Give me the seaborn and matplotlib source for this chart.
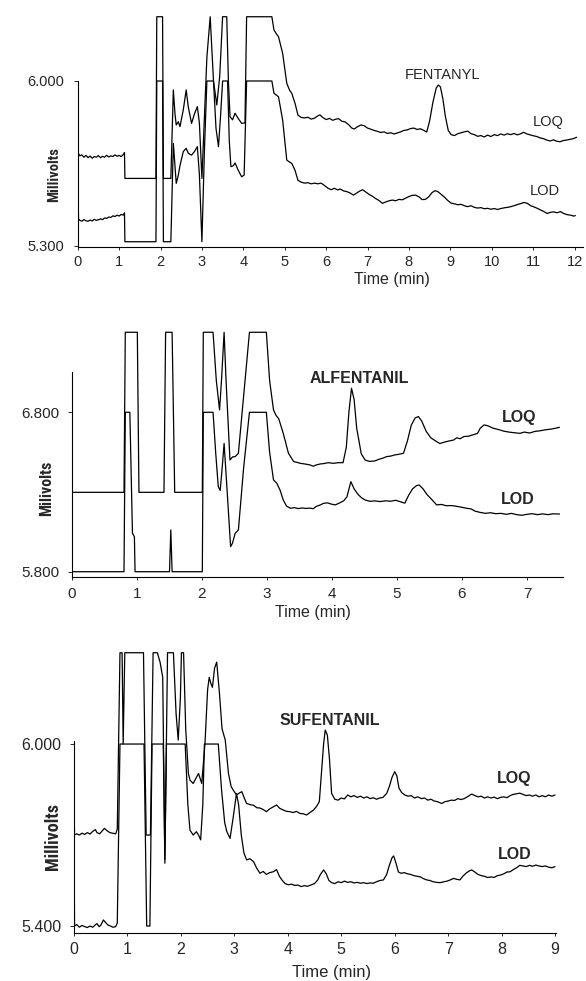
#chromatograms of fentanyl, alfentanil and sufentanil at LOQ and LOD
import numpy as np
import matplotlib
matplotlib.use("Agg")
import matplotlib.pyplot as plt
import seaborn as sns

#fentanyl traces (time in min, signal in mV)
fen_loq = [(0.00, 5.586), (0.01, 5.695), (0.05, 5.682), (0.10, 5.686), (0.15, 5.676), (0.20, 5.684), (0.25, 5.674),
           (0.30, 5.681), (0.35, 5.672), (0.40, 5.679), (0.45, 5.676), (0.50, 5.683), (0.55, 5.674), (0.60, 5.680),
           (0.65, 5.676), (0.70, 5.684), (0.75, 5.677), (0.80, 5.682), (0.85, 5.679), (0.90, 5.686), (0.95, 5.680),
           (1.00, 5.684), (1.05, 5.679), (1.10, 5.687), (1.13, 5.696), (1.14, 5.586), (1.89, 5.586), (1.91, 6.273),
           (2.05, 6.273), (2.07, 5.586), (2.25, 5.586), (2.31, 5.962), (2.35, 5.860), (2.38, 5.813), (2.43, 5.827),
           (2.47, 5.806), (2.55, 5.877), (2.62, 5.962), (2.67, 5.891), (2.75, 5.820), (2.82, 5.860), (2.89, 5.891),
           (2.94, 5.820), (3.00, 5.586), (3.05, 5.800), (3.12, 6.100), (3.20, 6.273), (3.28, 6.000), (3.36, 5.898),
           (3.43, 6.020), (3.50, 6.273), (3.60, 6.273), (3.64, 6.000), (3.68, 5.848), (3.74, 5.835), (3.80, 5.863),
           (3.88, 5.840), (3.96, 5.820), (4.04, 5.822), (4.08, 6.273), (4.69, 6.273), (4.74, 6.217), (4.80, 6.200),
           (4.85, 6.188), (4.95, 6.118), (5.05, 5.990), (5.12, 5.960), (5.17, 5.948), (5.25, 5.905), (5.32, 5.855),
           (5.40, 5.845), (5.48, 5.843), (5.56, 5.846), (5.64, 5.838), (5.72, 5.842), (5.80, 5.852), (5.85, 5.856),
           (5.92, 5.845), (6.00, 5.836), (6.08, 5.841), (6.16, 5.833), (6.24, 5.838), (6.30, 5.840), (6.38, 5.829),
           (6.46, 5.826), (6.54, 5.815), (6.62, 5.800), (6.68, 5.796), (6.76, 5.806), (6.84, 5.813), (6.92, 5.810),
           (7.00, 5.800), (7.08, 5.795), (7.16, 5.790), (7.24, 5.786), (7.32, 5.781), (7.40, 5.784), (7.48, 5.777),
           (7.56, 5.780), (7.64, 5.775), (7.72, 5.779), (7.80, 5.784), (7.88, 5.790), (7.96, 5.792), (8.04, 5.798),
           (8.12, 5.800), (8.20, 5.794), (8.28, 5.797), (8.36, 5.790), (8.43, 5.783), (8.50, 5.830), (8.58, 5.910),
           (8.66, 5.970), (8.71, 5.983), (8.76, 5.975), (8.82, 5.925), (8.88, 5.850), (8.95, 5.790), (9.02, 5.772),
           (9.10, 5.768), (9.18, 5.776), (9.26, 5.780), (9.34, 5.784), (9.42, 5.787), (9.50, 5.776), (9.58, 5.772),
           (9.66, 5.765), (9.74, 5.768), (9.82, 5.762), (9.90, 5.770), (9.98, 5.764), (10.06, 5.772), (10.14, 5.768),
           (10.22, 5.775), (10.30, 5.770), (10.38, 5.776), (10.46, 5.772), (10.54, 5.777), (10.62, 5.771),
           (10.70, 5.776), (10.77, 5.782), (10.85, 5.775), (10.93, 5.771), (11.01, 5.767), (11.09, 5.764),
           (11.17, 5.758), (11.25, 5.755), (11.33, 5.749), (11.41, 5.745), (11.49, 5.750), (11.57, 5.744),
           (11.65, 5.742), (11.73, 5.747), (11.81, 5.749), (11.89, 5.752), (11.97, 5.755), (12.05, 5.761)]

fen_lod = [(0.00, 5.586), (0.02, 5.414), (0.05, 5.408), (0.10, 5.404), (0.15, 5.411), (0.20, 5.406), (0.25, 5.404),
           (0.30, 5.409), (0.35, 5.405), (0.40, 5.412), (0.45, 5.408), (0.50, 5.410), (0.55, 5.414), (0.60, 5.411),
           (0.65, 5.418), (0.70, 5.416), (0.75, 5.422), (0.80, 5.420), (0.85, 5.427), (0.90, 5.424), (0.95, 5.430),
           (1.00, 5.426), (1.05, 5.433), (1.10, 5.430), (1.13, 5.440), (1.14, 5.317), (1.89, 5.317), (1.91, 6.000),
           (2.05, 6.000), (2.07, 5.317), (2.25, 5.317), (2.31, 5.735), (2.38, 5.565), (2.43, 5.600), (2.47, 5.640),
           (2.55, 5.700), (2.62, 5.714), (2.67, 5.693), (2.75, 5.685), (2.82, 5.700), (2.89, 5.721), (2.94, 5.600),
           (3.00, 5.317), (3.06, 5.700), (3.12, 6.000), (3.28, 6.000), (3.34, 5.800), (3.40, 5.721), (3.45, 5.850),
           (3.50, 6.000), (3.62, 6.000), (3.66, 5.750), (3.70, 5.636), (3.76, 5.640), (3.80, 5.652), (3.88, 5.620),
           (3.96, 5.593), (4.02, 5.600), (4.08, 6.000), (4.69, 6.000), (4.74, 5.948), (4.85, 5.933), (4.95, 5.834),
           (5.05, 5.664), (5.12, 5.655), (5.17, 5.650), (5.25, 5.620), (5.32, 5.578), (5.40, 5.570), (5.48, 5.566),
           (5.56, 5.568), (5.64, 5.563), (5.72, 5.566), (5.80, 5.563), (5.88, 5.566), (5.96, 5.556), (6.04, 5.545),
           (6.12, 5.538), (6.20, 5.544), (6.28, 5.537), (6.34, 5.541), (6.42, 5.533), (6.50, 5.530), (6.58, 5.524),
           (6.66, 5.515), (6.74, 5.524), (6.82, 5.533), (6.88, 5.538), (6.96, 5.528), (7.04, 5.518), (7.12, 5.510),
           (7.20, 5.500), (7.28, 5.492), (7.36, 5.480), (7.44, 5.486), (7.52, 5.491), (7.60, 5.494), (7.68, 5.491),
           (7.76, 5.497), (7.84, 5.495), (7.92, 5.502), (8.00, 5.509), (8.08, 5.514), (8.16, 5.515), (8.24, 5.508),
           (8.32, 5.496), (8.40, 5.497), (8.48, 5.508), (8.56, 5.526), (8.63, 5.534), (8.70, 5.530), (8.78, 5.518),
           (8.86, 5.506), (8.94, 5.492), (9.02, 5.481), (9.10, 5.478), (9.18, 5.474), (9.26, 5.476), (9.34, 5.470),
           (9.42, 5.466), (9.50, 5.470), (9.58, 5.463), (9.66, 5.460), (9.74, 5.462), (9.82, 5.457), (9.90, 5.459),
           (9.98, 5.455), (10.06, 5.458), (10.14, 5.454), (10.22, 5.458), (10.30, 5.461), (10.38, 5.463),
           (10.46, 5.466), (10.54, 5.470), (10.62, 5.475), (10.70, 5.479), (10.78, 5.484), (10.86, 5.480),
           (10.94, 5.470), (11.02, 5.465), (11.10, 5.459), (11.18, 5.452), (11.26, 5.445), (11.34, 5.437),
           (11.42, 5.442), (11.50, 5.444), (11.58, 5.440), (11.66, 5.445), (11.74, 5.437), (11.82, 5.432),
           (11.90, 5.430), (11.98, 5.426), (12.02, 5.428)]

#alfentanil traces
alf_loq = [(0.00, 6.298), (0.80, 6.298), (0.82, 7.302), (1.005, 7.302), (1.03, 6.298), (1.415, 6.298), (1.44, 7.302),
           (1.54, 7.302), (1.58, 6.298), (2.005, 6.298), (2.02, 7.302), (2.17, 7.302), (2.22, 7.000), (2.27, 6.815),
           (2.30, 7.000), (2.34, 7.302), (2.37, 7.000), (2.43, 6.501), (2.47, 6.520), (2.51, 6.522), (2.56, 6.543),
           (2.64, 6.900), (2.73, 7.302), (2.99, 7.302), (3.04, 7.000), (3.10, 6.815), (3.14, 6.780), (3.18, 6.760),
           (3.25, 6.668), (3.33, 6.543), (3.41, 6.491), (3.48, 6.484), (3.51, 6.480), (3.58, 6.476), (3.66, 6.470),
           (3.71, 6.462), (3.76, 6.470), (3.82, 6.476), (3.87, 6.478), (3.94, 6.484), (4.02, 6.480), (4.10, 6.484),
           (4.17, 6.484), (4.22, 6.580), (4.26, 6.800), (4.30, 6.951), (4.34, 6.880), (4.38, 6.700), (4.45, 6.540),
           (4.51, 6.500), (4.58, 6.492), (4.66, 6.495), (4.72, 6.505), (4.78, 6.512), (4.84, 6.522), (4.90, 6.525),
           (4.96, 6.532), (5.02, 6.536), (5.10, 6.543), (5.16, 6.620), (5.22, 6.720), (5.28, 6.765), (5.33, 6.773),
           (5.38, 6.745), (5.45, 6.680), (5.52, 6.640), (5.61, 6.616), (5.66, 6.604), (5.72, 6.612), (5.80, 6.620),
           (5.87, 6.626), (5.92, 6.640), (5.97, 6.634), (6.03, 6.648), (6.10, 6.650), (6.18, 6.660), (6.24, 6.668),
           (6.28, 6.700), (6.34, 6.721), (6.40, 6.715), (6.48, 6.700), (6.56, 6.692), (6.64, 6.682), (6.72, 6.676),
           (6.80, 6.672), (6.89, 6.668), (6.96, 6.676), (7.04, 6.670), (7.12, 6.680), (7.20, 6.684), (7.28, 6.690),
           (7.36, 6.694), (7.44, 6.700), (7.50, 6.706)]

alf_lod = [(0.00, 6.298), (0.005, 5.800), (0.80, 5.800), (0.82, 6.800), (0.89, 6.800), (0.93, 6.041), (0.96, 6.020),
           (0.97, 5.800), (1.50, 5.800), (1.52, 6.062), (1.54, 5.800), (2.005, 5.800), (2.02, 6.800), (2.17, 6.800),
           (2.21, 6.550), (2.25, 6.334), (2.28, 6.310), (2.31, 6.450), (2.34, 6.605), (2.38, 6.350), (2.44, 5.957),
           (2.47, 5.980), (2.51, 6.041), (2.56, 6.062), (2.64, 6.450), (2.73, 6.800), (2.99, 6.800), (3.04, 6.550),
           (3.10, 6.376), (3.15, 6.355), (3.20, 6.313), (3.25, 6.250), (3.30, 6.212), (3.36, 6.198), (3.42, 6.202),
           (3.48, 6.196), (3.54, 6.200), (3.60, 6.197), (3.66, 6.199), (3.71, 6.195), (3.76, 6.210), (3.82, 6.219),
           (3.87, 6.229), (3.93, 6.232), (3.99, 6.224), (4.05, 6.219), (4.12, 6.232), (4.18, 6.245), (4.23, 6.270),
           (4.29, 6.365), (4.34, 6.320), (4.40, 6.285), (4.46, 6.262), (4.51, 6.250), (4.58, 6.242), (4.66, 6.244),
           (4.74, 6.240), (4.82, 6.245), (4.90, 6.242), (4.98, 6.248), (5.06, 6.238), (5.12, 6.230), (5.18, 6.280),
           (5.24, 6.320), (5.30, 6.340), (5.34, 6.344), (5.40, 6.320), (5.46, 6.285), (5.53, 6.255), (5.61, 6.219),
           (5.68, 6.222), (5.76, 6.214), (5.84, 6.215), (5.92, 6.210), (6.00, 6.204), (6.07, 6.198), (6.14, 6.194),
           (6.20, 6.180), (6.28, 6.172), (6.36, 6.166), (6.44, 6.170), (6.52, 6.164), (6.60, 6.166), (6.68, 6.160),
           (6.76, 6.166), (6.84, 6.158), (6.92, 6.154), (7.00, 6.160), (7.08, 6.164), (7.16, 6.158), (7.24, 6.163),
           (7.32, 6.158), (7.40, 6.163), (7.50, 6.162)]

#sufentanil traces
suf_loq = [(0.00, 5.810), (0.01, 5.700), (0.05, 5.704), (0.10, 5.700), (0.15, 5.706), (0.20, 5.702), (0.25, 5.708),
           (0.30, 5.703), (0.35, 5.712), (0.40, 5.718), (0.43, 5.708), (0.48, 5.704), (0.52, 5.712), (0.57, 5.722),
           (0.62, 5.714), (0.67, 5.708), (0.72, 5.706), (0.78, 5.704), (0.81, 5.720), (0.86, 6.301), (0.90, 6.301),
           (0.92, 6.000), (0.95, 6.301), (1.30, 6.301), (1.35, 5.700), (1.43, 5.700), (1.48, 6.301), (1.56, 6.301),
           (1.61, 6.270), (1.66, 6.220), (1.70, 5.607), (1.75, 6.301), (1.86, 6.301), (1.91, 6.100), (1.95, 6.013),
           (1.99, 6.150), (2.01, 6.301), (2.05, 6.301), (2.09, 6.050), (2.14, 5.903), (2.17, 5.881), (2.23, 5.870),
           (2.29, 5.890), (2.33, 5.903), (2.39, 5.870), (2.45, 6.000), (2.50, 6.180), (2.53, 6.220), (2.56, 6.200),
           (2.59, 6.187), (2.63, 6.250), (2.67, 6.270), (2.72, 6.170), (2.77, 6.050), (2.83, 6.013), (2.89, 5.903),
           (2.94, 5.860), (2.98, 5.848), (3.04, 5.832), (3.09, 5.838), (3.14, 5.843), (3.19, 5.820), (3.23, 5.804),
           (3.30, 5.800), (3.36, 5.798), (3.42, 5.790), (3.48, 5.789), (3.54, 5.784), (3.60, 5.777), (3.66, 5.786),
           (3.72, 5.792), (3.79, 5.799), (3.85, 5.788), (3.92, 5.782), (3.98, 5.778), (4.04, 5.777), (4.10, 5.774),
           (4.16, 5.778), (4.23, 5.771), (4.29, 5.770), (4.35, 5.766), (4.42, 5.775), (4.48, 5.782), (4.54, 5.795),
           (4.59, 5.810), (4.63, 5.903), (4.67, 6.000), (4.70, 6.046), (4.74, 6.030), (4.78, 5.950), (4.82, 5.837),
           (4.88, 5.818), (4.94, 5.815), (5.00, 5.822), (5.06, 5.819), (5.12, 5.832), (5.18, 5.826), (5.24, 5.830),
           (5.30, 5.824), (5.36, 5.828), (5.42, 5.822), (5.48, 5.826), (5.54, 5.820), (5.60, 5.823), (5.66, 5.818),
           (5.72, 5.822), (5.78, 5.824), (5.85, 5.837), (5.90, 5.860), (5.95, 5.890), (6.00, 5.909), (6.04, 5.895),
           (6.08, 5.855), (6.13, 5.840), (6.19, 5.832), (6.25, 5.828), (6.31, 5.830), (6.37, 5.822), (6.43, 5.826),
           (6.50, 5.820), (6.56, 5.822), (6.62, 5.815), (6.68, 5.818), (6.74, 5.812), (6.80, 5.810), (6.88, 5.804),
           (6.94, 5.810), (7.00, 5.812), (7.06, 5.815), (7.12, 5.814), (7.18, 5.820), (7.24, 5.817), (7.30, 5.820),
           (7.36, 5.826), (7.44, 5.835), (7.50, 5.830), (7.56, 5.826), (7.62, 5.828), (7.68, 5.822), (7.74, 5.826),
           (7.80, 5.822), (7.86, 5.825), (7.92, 5.820), (7.98, 5.824), (8.04, 5.826), (8.10, 5.823), (8.16, 5.830),
           (8.22, 5.834), (8.28, 5.836), (8.34, 5.838), (8.40, 5.834), (8.46, 5.830), (8.52, 5.832), (8.58, 5.828),
           (8.64, 5.832), (8.70, 5.826), (8.76, 5.830), (8.82, 5.826), (8.88, 5.832), (8.94, 5.828), (9.00, 5.832)]

suf_lod = [(0.00, 5.700), (0.01, 5.400), (0.05, 5.405), (0.10, 5.396), (0.15, 5.402), (0.20, 5.398), (0.25, 5.395),
           (0.30, 5.400), (0.35, 5.396), (0.40, 5.404), (0.43, 5.408), (0.47, 5.398), (0.50, 5.402), (0.55, 5.420),
           (0.58, 5.414), (0.63, 5.404), (0.68, 5.400), (0.73, 5.396), (0.78, 5.398), (0.81, 5.410), (0.86, 6.000),
           (1.31, 6.000), (1.36, 5.400), (1.42, 5.400), (1.46, 6.000), (1.67, 6.000), (1.70, 5.620), (1.73, 6.000),
           (2.08, 6.000), (2.13, 5.800), (2.17, 5.716), (2.23, 5.700), (2.29, 5.711), (2.33, 5.700), (2.37, 5.684),
           (2.41, 5.800), (2.44, 6.000), (2.70, 6.000), (2.76, 5.850), (2.82, 5.740), (2.86, 5.711), (2.92, 5.689),
           (2.98, 5.760), (3.04, 5.837), (3.08, 5.800), (3.13, 5.700), (3.18, 5.640), (3.23, 5.618), (3.29, 5.622),
           (3.36, 5.612), (3.42, 5.590), (3.48, 5.574), (3.54, 5.580), (3.60, 5.570), (3.66, 5.576), (3.73, 5.579),
           (3.79, 5.586), (3.84, 5.565), (3.89, 5.552), (3.95, 5.540), (4.01, 5.536), (4.07, 5.538), (4.13, 5.534),
           (4.19, 5.535), (4.25, 5.530), (4.31, 5.533), (4.37, 5.531), (4.43, 5.535), (4.50, 5.540), (4.56, 5.552),
           (4.61, 5.570), (4.67, 5.585), (4.72, 5.572), (4.77, 5.550), (4.82, 5.543), (4.88, 5.540), (4.94, 5.546),
           (5.00, 5.543), (5.06, 5.548), (5.12, 5.544), (5.18, 5.546), (5.24, 5.542), (5.30, 5.544), (5.36, 5.541),
           (5.42, 5.543), (5.48, 5.540), (5.54, 5.542), (5.60, 5.541), (5.66, 5.546), (5.72, 5.550), (5.79, 5.552),
           (5.85, 5.570), (5.90, 5.600), (5.95, 5.625), (5.98, 5.631), (6.02, 5.610), (6.07, 5.578), (6.12, 5.574),
           (6.18, 5.576), (6.24, 5.572), (6.30, 5.570), (6.36, 5.566), (6.42, 5.564), (6.48, 5.562), (6.54, 5.556),
           (6.60, 5.552), (6.66, 5.550), (6.72, 5.546), (6.78, 5.544), (6.85, 5.543), (6.92, 5.546), (6.98, 5.548),
           (7.04, 5.552), (7.10, 5.557), (7.16, 5.554), (7.22, 5.552), (7.28, 5.565), (7.34, 5.575), (7.40, 5.582),
           (7.44, 5.585), (7.50, 5.578), (7.56, 5.570), (7.62, 5.566), (7.68, 5.564), (7.74, 5.560), (7.80, 5.562),
           (7.86, 5.560), (7.92, 5.566), (7.98, 5.568), (8.04, 5.572), (8.10, 5.578), (8.16, 5.579), (8.22, 5.586),
           (8.28, 5.592), (8.34, 5.600), (8.40, 5.598), (8.46, 5.596), (8.52, 5.600), (8.58, 5.597), (8.64, 5.601),
           (8.70, 5.598), (8.76, 5.596), (8.82, 5.598), (8.88, 5.594), (8.94, 5.592), (9.00, 5.596)]

#axis ticks for each panel
fen_xticks = list(range(0, 13))
alf_xticks = list(range(0, 8))
suf_xticks = list(range(0, 10))
fen_yticks = [5.3, 6.0]
alf_yticks = [5.8, 6.8]
suf_yticks = [5.4, 6.0]

#seaborn style first, fonts after it
sns.set_style("white")
plt.rcParams['font.family'] = ['Liberation Sans', 'DejaVu Sans']
narrow = ['Roboto Condensed', 'Oswald', 'PT Sans Narrow', 'Archivo Narrow', 'DejaVu Sans']

W, H = 586, 981
fig = plt.figure(figsize=(W / 100, H / 100), dpi=100)


def make_axes(left, right, top, bottom):
    #axes placed by pixel edges of the page
    return fig.add_axes([left / W, 1 - bottom / H, (right - left) / W, (bottom - top) / H])


def draw_panel(ax, loq, lod, xlim, ylim, xticks, yticks, ybounds, fs, xpad, ypad):
    for trace in (loq, lod):
        arr = np.array(trace)
        sns.lineplot(x=arr[:, 0], y=arr[:, 1], ax=ax, color='black', linewidth=0.9,
                     sort=False, estimator=None)
    ax.set_xlim(*xlim)
    ax.set_ylim(*ylim)
    ax.set_xticks(xticks)
    ax.set_xticklabels([str(t) for t in xticks], fontsize=fs)
    ax.set_yticks(yticks)
    ax.set_yticklabels(['%.3f' % v for v in yticks], fontsize=fs)
    ax.tick_params(axis='x', direction='out', length=2.5, width=0.7, pad=xpad, bottom=True)
    ax.tick_params(axis='y', direction='out', length=3, width=0.7, pad=ypad, left=True)
    for side in ['top', 'right']:
        ax.spines[side].set_visible(False)
    for side in ['left', 'bottom']:
        ax.spines[side].set_linewidth(0.8)
        ax.spines[side].set_color('black')
    ax.spines['left'].set_bounds(*ybounds)
    ax.set_xlabel('')
    ax.set_ylabel('')


#panel 1: fentanyl
ax1 = make_axes(77.7, 582.8, 15.1, 246.9)
draw_panel(ax1, fen_loq, fen_lod, (0, 12.2), (5.295, 6.28), fen_xticks, fen_yticks, (5.3, 6.0), 10.5, 3, 7)
ax1.text(8.82, 6.026, 'FENTANYL', ha='center', va='center', fontsize=10.5)
ax1.text(11.36, 5.826, 'LOQ', ha='center', va='center', fontsize=10.5)
ax1.text(11.29, 5.532, 'LOD', ha='center', va='center', fontsize=10.5)
fig.text(391.5 / W, 1 - 279 / H, 'Time (min)', ha='center', va='center', fontsize=11.5)
fig.text(54 / W, 1 - 175 / H, 'Millivolts', ha='center', va='center', rotation=90,
         fontsize=10.5, fontweight='bold', family=narrow)

#panel 2: alfentanil
ax2 = make_axes(72, 562.75, 329.4, 576.5)
draw_panel(ax2, alf_loq, alf_lod, (0, 7.55), (5.77, 7.32), alf_xticks, alf_yticks, (5.77, 7.05), 11, 5, 6)
ax2.text(4.42, 7.015, 'ALFENTANIL', ha='center', va='center', fontsize=11.5, fontweight='bold')
ax2.text(6.88, 6.77, 'LOQ', ha='center', va='center', fontsize=11.5, fontweight='bold')
ax2.text(6.86, 6.25, 'LOD', ha='center', va='center', fontsize=11.5, fontweight='bold')
fig.text(313 / W, 1 - 613 / H, 'Time (min)', ha='center', va='center', fontsize=11.5)
fig.text(47 / W, 1 - 488 / H, 'Milivolts', ha='center', va='center', rotation=90,
         fontsize=11.5, fontweight='bold', family=narrow)

#panel 3: sufentanil
ax3 = make_axes(74, 556.1, 650, 932.7)
draw_panel(ax3, suf_loq, suf_lod, (0, 9.02), (5.378, 6.31), suf_xticks, suf_yticks, (5.378, 6.01), 11.5, 4.5, 6)
ax3.text(4.79, 6.079, 'SUFENTANIL', ha='center', va='center', fontsize=11.5, fontweight='bold')
ax3.text(8.23, 5.888, 'LOQ', ha='center', va='center', fontsize=11.5, fontweight='bold')
ax3.text(8.25, 5.637, 'LOD', ha='center', va='center', fontsize=11.5, fontweight='bold')
fig.text(331.7 / W, 1 - 973 / H, 'Time (min)', ha='center', va='center', fontsize=12)
fig.text(53 / W, 1 - 836 / H, 'Millivolts', ha='center', va='center', rotation=90,
         fontsize=13, fontweight='bold', family=narrow)

fig.savefig('out.png', dpi=100)
